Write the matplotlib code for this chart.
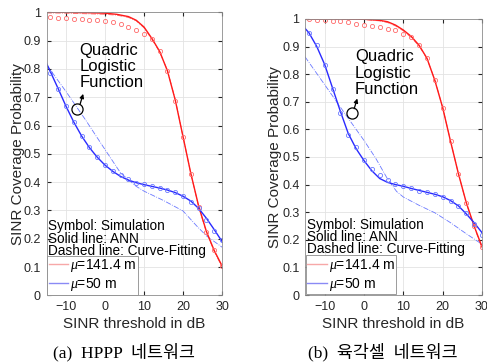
import matplotlib
matplotlib.use("Agg")
import matplotlib.pyplot as plt

plt.rcParams["font.family"] = ["Liberation Sans", "DejaVu Sans"]
plt.rcParams["mathtext.fontset"] = "custom"
plt.rcParams["mathtext.it"] = "Liberation Serif:italic"

# simulation symbols, every 2 dB
x_sim = [-14, -12, -10, -8, -6, -4, -2, 0, 2, 4, 6, 8, 10,
         12, 14, 16, 18, 20, 22, 24, 26, 28, 30]

# (a) HPPP
a_red_sim = [0.983, 0.981, 0.979, 0.977, 0.976, 0.974, 0.972, 0.970, 0.965, 0.958,
             0.948, 0.938, 0.923, 0.905, 0.864, 0.793, 0.688, 0.558, 0.429, 0.313,
             0.223, 0.160, 0.104]
a_blue_sim = [0.784, 0.728, 0.669, 0.612, 0.562, 0.523, 0.490, 0.460, 0.440, 0.425,
              0.410, 0.398, 0.392, 0.386, 0.380, 0.372, 0.364, 0.351, 0.330, 0.310,
              0.266, 0.227, 0.195]

a_red_ann_x = [-15, -10, -5, 0, 3, 6, 8, 10, 12, 14, 16, 18, 20, 22, 24, 26, 28, 30]
a_red_ann = [1.0, 1.0, 0.999, 0.997, 0.993, 0.985, 0.972, 0.948, 0.908, 0.862,
             0.793, 0.690, 0.560, 0.430, 0.315, 0.225, 0.158, 0.104]
a_red_fit = [0.998, 0.997, 0.995, 0.993, 0.990, 0.982, 0.970, 0.945, 0.905, 0.860,
             0.795, 0.692, 0.560, 0.430, 0.313, 0.222, 0.155, 0.100]

a_blue_ann_x = [-15, -14, -12, -10, -8, -6, -4, -2, 0, 2, 4, 6, 8, 10,
                12, 14, 16, 18, 20, 22, 24, 26, 28, 30]
a_blue_ann = [0.820, 0.790, 0.730, 0.668, 0.612, 0.563, 0.522, 0.488, 0.460, 0.438,
              0.420, 0.407, 0.398, 0.391, 0.385, 0.379, 0.372, 0.363, 0.350, 0.333,
              0.307, 0.272, 0.232, 0.190]
a_blue_fit_x = [-15, -10, -5, 0, 4, 8, 10, 15, 20, 23.5, 26, 28.6, 30]
a_blue_fit = [0.815, 0.720, 0.620, 0.515, 0.432, 0.385, 0.368, 0.335, 0.298,
              0.245, 0.210, 0.184, 0.170]

# (b) hexagonal cell
b_red_sim = [1.0, 0.996, 0.995, 0.994, 0.992, 0.988, 0.983, 0.978, 0.975, 0.971,
             0.965, 0.959, 0.947, 0.935, 0.905, 0.859, 0.779, 0.679, 0.557, 0.440,
             0.335, 0.250, 0.175]
b_blue_sim = [0.950, 0.905, 0.835, 0.748, 0.660, 0.580, 0.537, 0.490, 0.458, 0.435,
              0.415, 0.402, 0.396, 0.387, 0.378, 0.372, 0.366, 0.356, 0.342, 0.321,
              0.298, 0.259, 0.219]

b_red_ann_x = [-15, -5, 0, 4, 6, 8, 10, 12, 14, 16, 18, 20, 22, 24, 26, 28, 30]
b_red_ann = [1.0, 1.0, 0.999, 0.995, 0.990, 0.978, 0.960, 0.937, 0.905, 0.858,
             0.778, 0.679, 0.557, 0.440, 0.335, 0.250, 0.175]
b_red_fit = [0.999, 0.999, 0.998, 0.993, 0.987, 0.975, 0.957, 0.933, 0.902, 0.857,
             0.780, 0.680, 0.558, 0.440, 0.333, 0.247, 0.170]

b_blue_ann = [0.966, 0.950, 0.900, 0.835, 0.750, 0.665, 0.585, 0.530, 0.487, 0.450,
              0.422, 0.408, 0.400, 0.394, 0.386, 0.379, 0.372, 0.365, 0.356, 0.342,
              0.323, 0.294, 0.262, 0.226]
b_blue_fit_x = [-15, -10, -5, 0, 3, 6, 8.3, 10, 14, 18, 22, 26, 30]
b_blue_fit = [0.863, 0.762, 0.660, 0.560, 0.495, 0.420, 0.375, 0.355, 0.325,
              0.298, 0.262, 0.222, 0.184]

x_ticks = [-10, 0, 10, 20, 30]
y_ticks = [0, 0.1, 0.2, 0.3, 0.4, 0.5, 0.6, 0.7, 0.8, 0.9, 1]
y_tick_labels = ["0", "0.1", "0.2", "0.3", "0.4", "0.5", "0.6", "0.7", "0.8", "0.9", "1"]
legend_labels = [r"$\mu$=141.4 m", r"$\mu$=50 m"]
notes = ["Symbol: Simulation", "Solid line: ANN", "Dashed line: Curve-Fitting"]
captions = ["(a)  HPPP  네트워크", "(b)  육각셀  네트워크"]

RED = "#ff1a1a"
RED_LIGHT = "#ff6a6a"
BLUE = "#2a2aff"
BLUE_LIGHT = "#6a78ff"


def draw_panel(ax, red_sim, blue_sim, red_x, red_ann, red_fit,
               blue_x, blue_ann, blue_fx, blue_fit, text_x, text_y,
               circle, arrow, note_top, ylab_x):
    ax.plot(red_x, red_fit, "-.", color=RED_LIGHT, lw=0.6)
    ax.plot(blue_fx, blue_fit, "-.", color=BLUE_LIGHT, lw=0.6)
    ax.plot(red_x, red_ann, "-", color=RED, lw=1.0)
    ax.plot(blue_x, blue_ann, "-", color=BLUE, lw=1.0)
    ax.plot(x_sim, red_sim, "o", ms=3, mfc="none", mec=RED_LIGHT, mew=0.6)
    ax.plot(x_sim, blue_sim, "o", ms=3, mfc="none", mec=BLUE_LIGHT, mew=0.6)

    ax.set_xlim(-15, 30)
    ax.set_ylim(0, 1)
    ax.set_xticks(x_ticks)
    ax.set_yticks(y_ticks)
    ax.set_yticklabels(y_tick_labels)
    ax.grid(True, color="#e3e3e3", lw=0.6)
    ax.set_axisbelow(True)
    ax.tick_params(direction="in", length=3, labelsize=9, colors="#262626",
                   pad=4, top=True, right=True)
    for sp in ax.spines.values():
        sp.set_color("#8c8c8c")
        sp.set_linewidth(0.6)

    ax.set_xlabel("SINR threshold in dB", fontsize=11, color="#262626")
    ax.set_ylabel("SINR Coverage Probability", fontsize=11, color="#262626")
    ax.xaxis.set_label_coords(0.5, -0.078)
    ax.yaxis.set_label_coords(ylab_x, 0.5)

    ax.text(text_x, text_y, "Quadric\nLogistic\nFunction", fontsize=12,
            va="top", ha="left", linespacing=1.12)
    ax.plot([circle[0]], [circle[1]], "o", ms=8, mfc="none", mec="black", mew=0.9)
    ax.annotate("", xy=arrow[1], xytext=arrow[0],
                arrowprops=dict(arrowstyle="-|>", lw=0.9, color="black",
                                mutation_scale=6, shrinkA=0, shrinkB=0))

    ax.text(-14.6, note_top, "\n".join(notes), fontsize=9.8, va="top",
            ha="left", linespacing=0.84)

    h1, = ax.plot([], [], "-", color="#f7a8a8", lw=1.0)
    h2, = ax.plot([], [], "-", color="#8a8af5", lw=1.0)
    leg = ax.legend([h1, h2], legend_labels, loc="lower left", fontsize=10,
                    frameon=True, fancybox=False, framealpha=1,
                    edgecolor="#8c8c8c", borderpad=0.1, borderaxespad=0.05,
                    handlelength=1.4, handletextpad=0.15, labelspacing=0.15)
    leg.get_frame().set_linewidth(0.6)


def main():
    fig = plt.figure(figsize=(4.87, 3.63), dpi=100)
    ax1 = fig.add_axes([0.0955, 0.1865, 0.3605, 0.7795])
    ax2 = fig.add_axes([0.6263, 0.1873, 0.3634, 0.7604])

    draw_panel(ax1, a_red_sim, a_blue_sim, a_red_ann_x, a_red_ann, a_red_fit,
               a_blue_ann_x, a_blue_ann, a_blue_fit_x, a_blue_fit,
               -6.6, 0.893, (-7.1, 0.657), ((-6.4, 0.675), (-5.6, 0.712)),
               0.268, -0.122)
    draw_panel(ax2, b_red_sim, b_blue_sim, b_red_ann_x, b_red_ann, b_red_fit,
               a_blue_ann_x, b_blue_ann, b_blue_fit_x, b_blue_fit,
               -2.3, 0.89, (-3.1, 0.658), ((-2.5, 0.675), (-1.7, 0.712)),
               0.279, -0.128)

    for i, cap in enumerate(captions):
        fig.text([0.2536, 0.786][i], 1 - 351.7 / 363, cap, ha="center",
                 va="center", fontsize=12.5,
                 family=["Liberation Serif", "Noto Sans CJK KR"])

    fig.savefig("out.png", dpi=100)
    plt.close(fig)


if __name__ == "__main__":
    main()
